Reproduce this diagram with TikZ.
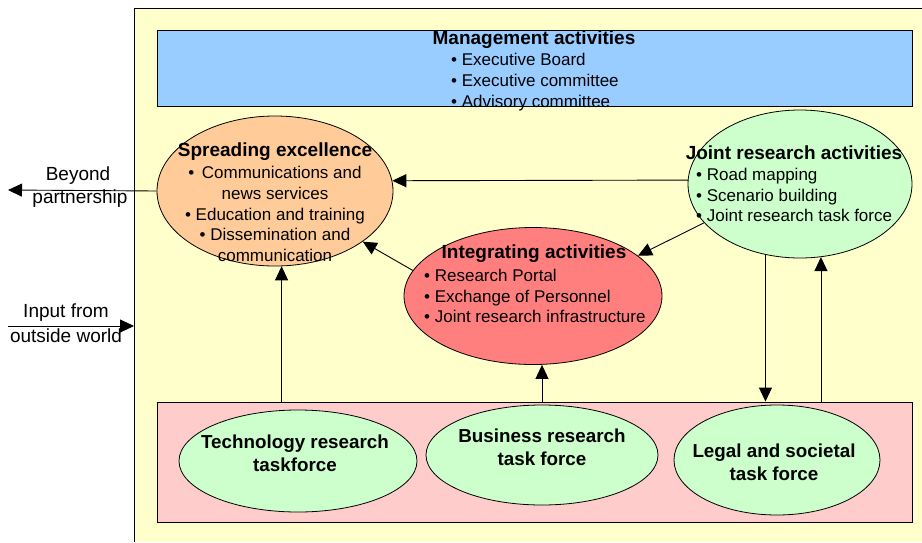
\documentclass[tikz,border=0pt]{standalone}
\usepackage{fontspec}
\setmainfont{Liberation Sans}
\usetikzlibrary{shapes.geometric,arrows.meta}

\definecolor{paper}{HTML}{FFFFCC}
\definecolor{mgmtblue}{HTML}{99CCFF}
\definecolor{spreadorange}{HTML}{FFCC99}
\definecolor{jointgreen}{HTML}{CCFFCC}
\definecolor{integred}{HTML}{FF7F7F}
\definecolor{taskpink}{HTML}{FFCCCC}

\begin{document}
\begin{tikzpicture}[x=1pt,y=-1pt,
  arr/.style={line width=0.9pt,-{Triangle[length=14pt,width=13pt]}},
  oval/.style={ellipse,draw=black,line width=0.8pt,inner sep=0pt},
  panel/.style={draw=black,line width=0.9pt,inner sep=0pt},
  ttl/.style={font=\fontsize{19}{22}\selectfont\bfseries,inner sep=0pt},
  ttlsmall/.style={font=\fontsize{18.8}{23}\selectfont\bfseries,inner sep=0pt},
  txt/.style={font=\fontsize{17}{20.8}\selectfont,inner sep=0pt},
  outer/.style={font=\fontsize{19}{22}\selectfont,inner sep=0pt},
]
\useasboundingbox (0,0) rectangle (922,542);

% background frame
\fill[paper] (134,8) rectangle (922,542);
\draw[line width=0.9pt] (134,542) -- (134,8) -- (922,8);
\coordinate (frameNW) at (134,8);

% management band
\node[panel,fill=mgmtblue,minimum width=755pt,minimum height=76pt] (mgmt) at (534.5,68) {};
\node[ttl] (mgmtT) at (534,40) {Management activities};
\node[txt,anchor=west,align=left] (mgmtL) at (451,82) {• Executive Board\\• Executive committee\\• Advisory committee};

% task force band
\node[panel,fill=taskpink,minimum width=755pt,minimum height=120pt] (pink) at (534.5,462) {};

% main activity ovals
\node[oval,fill=spreadorange,minimum width=236pt,minimum height=150pt] (spread) at (275,191) {};
\node[oval,fill=jointgreen,minimum width=224pt,minimum height=148pt] (joint) at (800,184) {};
\node[oval,fill=integred,minimum width=258pt,minimum height=137pt] (integ) at (533,296) {};

\node[ttl] (spreadT) at (275,152) {Spreading excellence};
\node[txt,align=center] (spreadL) at (275,214) {• \,Communications and\\news services\\• Education and training\\• Dissemination and\\communication};

\node[ttl] (jointT) at (794,153) {Joint research activities};
\node[txt,anchor=west,align=left] (jointL) at (696,195) {• Road mapping\\• Scenario building\\• Joint research task force};

\node[ttl] (integT) at (534,254) {Integrating activities};
\node[txt,anchor=west,align=left] (integL) at (424,296) {• Research Portal\\• Exchange of Personnel\\• Joint research infrastructure};

% task force ovals
\node[oval,fill=jointgreen,minimum width=238pt,minimum height=102pt] (tech) at (298,461) {};
\node[oval,fill=jointgreen,minimum width=232pt,minimum height=100pt] (bus) at (542,455) {};
\node[oval,fill=jointgreen,minimum width=206pt,minimum height=110pt] (legal) at (777,460) {};

\node[ttlsmall,align=center] (techT) at (295,453) {Technology research\\taskforce};
\node[ttlsmall,align=center] (busT) at (542,447) {Business research\\task force};
\node[ttlsmall,align=center] (legalT) at (774,462) {Legal and societal\\task force};

% outside world
\coordinate (outL) at (8,190);
\coordinate (inL) at (8,326);
\node[outer] (beyondA) at (78,176) {Beyond};
\node[outer] (beyondB) at (80,199) {partnership};
\node[outer] (inputA) at (66,313) {Input from};
\node[outer] (inputB) at (66,336) {outside world};

% connectors
\draw[arr] (spread.west) -- (outL);
\draw[arr] (inL) -- (inL -| frameNW);
\draw[arr] (joint.178.5) -- (spread.5);
\draw[arr] (joint.202) -- (integ.21);
\draw[arr] (integ.168) -- (spread.330);
\draw[arr] (spread.275 |- pink.north) -- (spread.275);
\draw[arr] (bus.north |- pink.north) -- (bus.north |- integ.south);
\draw[arr] (joint.244) -- (joint.244 |- pink.north);
\draw[arr] (joint.286 |- pink.north) -- (joint.286);
\end{tikzpicture}
\end{document}
